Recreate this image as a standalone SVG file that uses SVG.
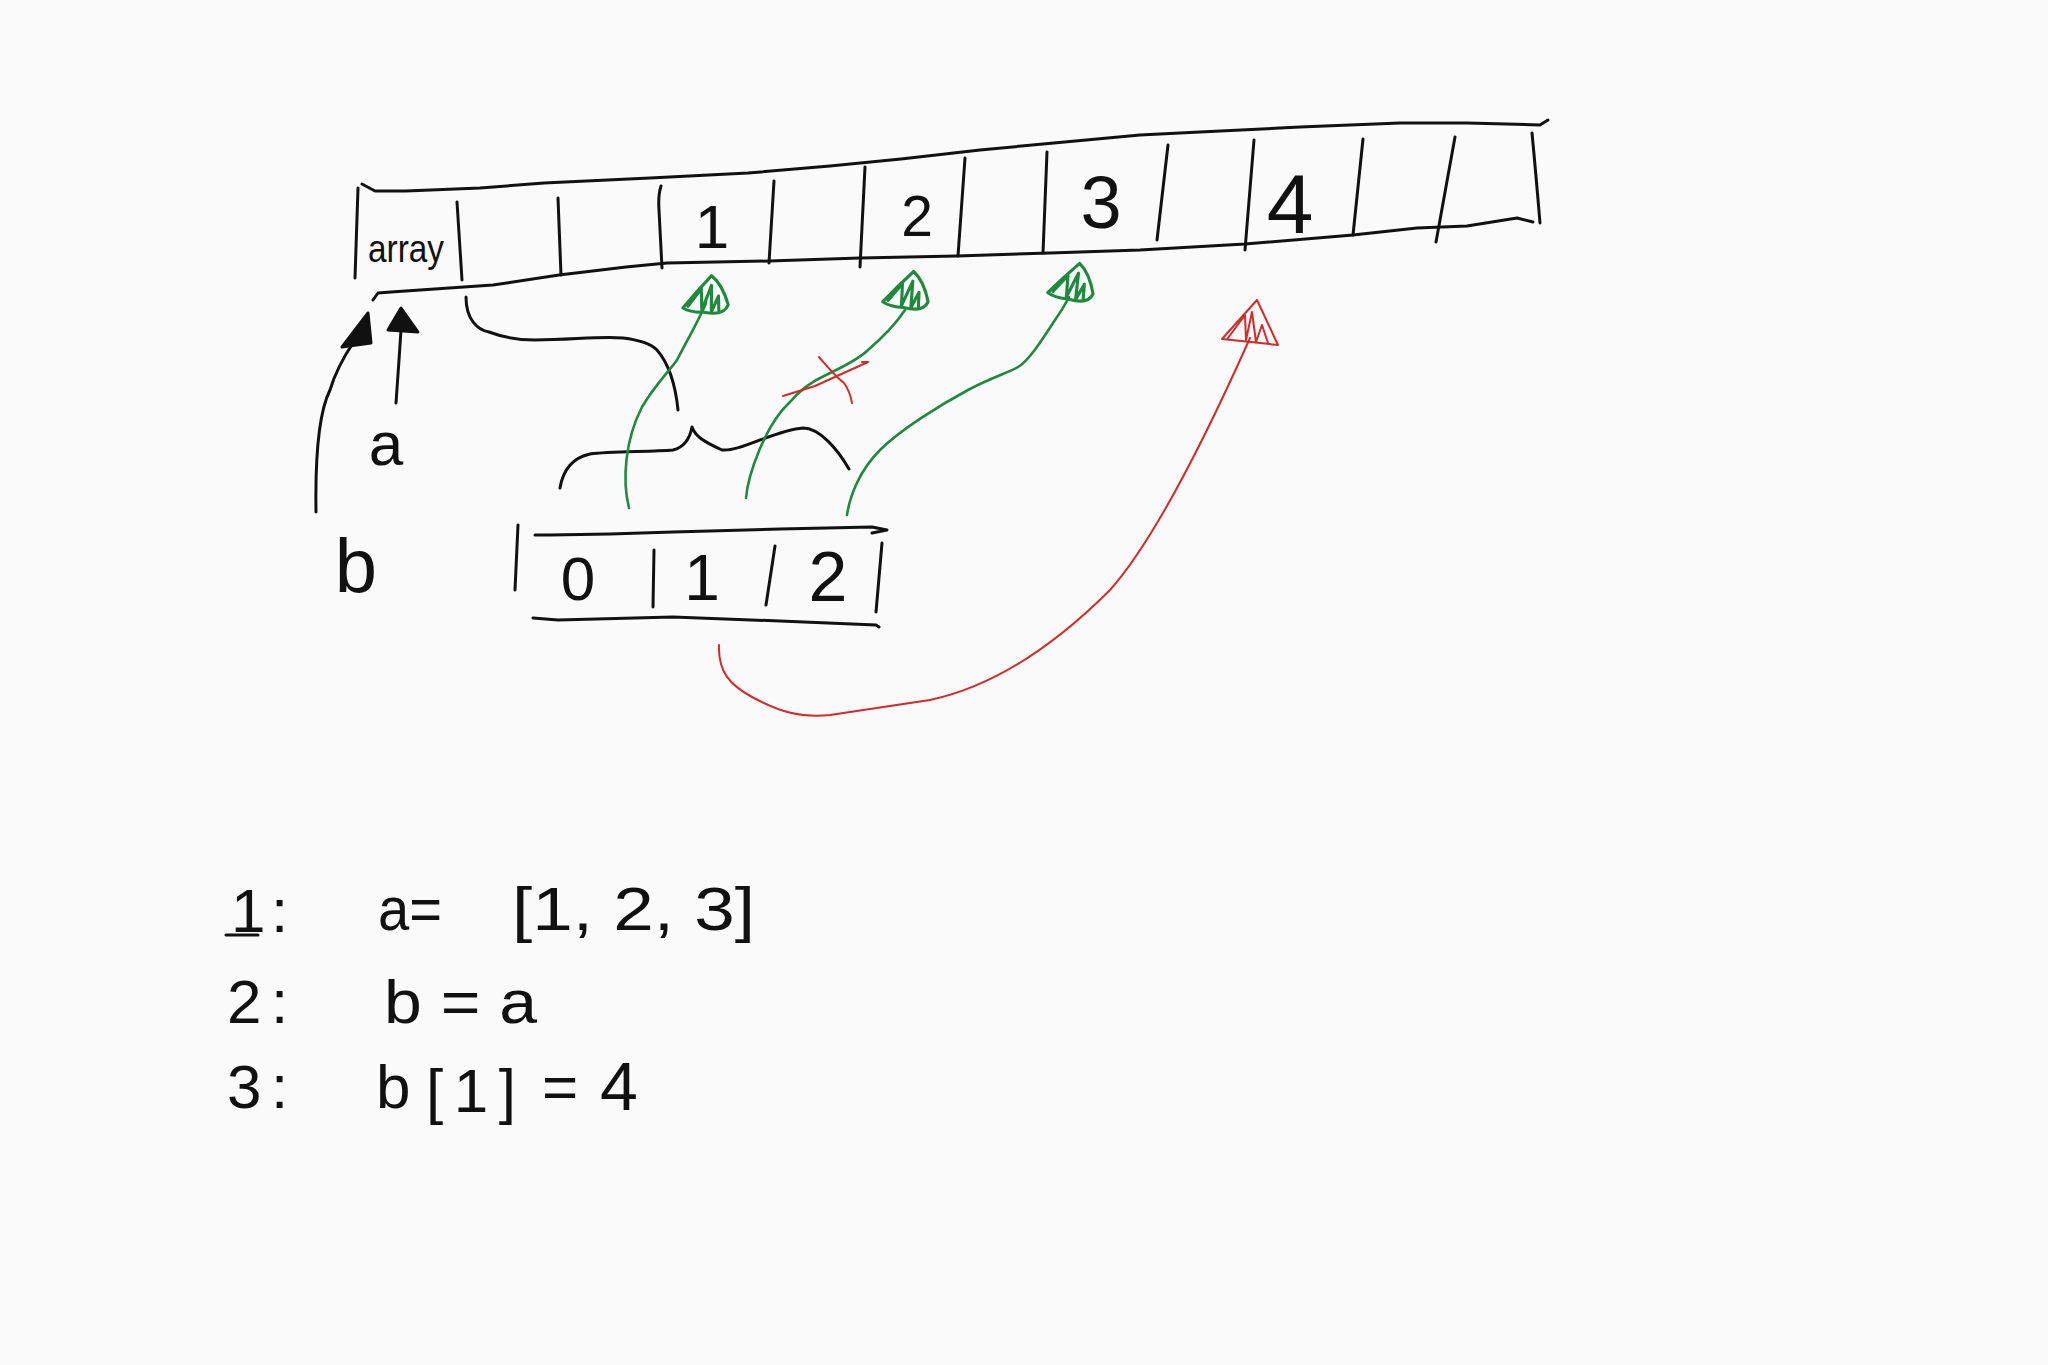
<svg xmlns="http://www.w3.org/2000/svg" xmlns:xlink="http://www.w3.org/1999/xlink" width="2048" height="1365" viewBox="0 0 2048 1365">
<style>
.k{fill:none;stroke:#111;stroke-width:3;stroke-linecap:round;stroke-linejoin:round}
.kf{fill:#111;stroke:#111;stroke-width:3;stroke-linecap:round;stroke-linejoin:round}
.g{fill:none;stroke:#1f8a3e;stroke-width:2.6;stroke-linecap:round;stroke-linejoin:round}
.r{fill:none;stroke:#d42a2a;stroke-width:2;stroke-linecap:round;stroke-linejoin:round}
.t{font-family:"Liberation Sans","DejaVu Sans",sans-serif;fill:#111}
</style>
<defs>
<g id="ah">
<path d="M-22,30 Q-12,14 -2,0 Q8,6 15,22 Q13,32 -4,31 Q-15,33 -22,30 Z"/>
<path d="M-18,28 L-9,12 L-6,30 L-1,8 L2,30 L6,16 L8,28"/>
</g>
</defs>
<rect width="2048" height="1365" fill="#fafafa"/>

<g id="array-main">
<polyline class="k" points="362,184 375,191 406,191 480,188 544,183 650,178 748,173 830,166 901,159 980,150 1054,143 1140,135 1200,132 1300,127 1400,123 1467,123 1540,125 1548,120"/>
<polyline class="k" points="373,300 378,293 391,292 493,285 559,275 626,267 667,263 769,261 860,258 957,256 1050,253 1140,250 1245,244 1353,235 1417,228 1467,226 1517,218 1533,222"/>
<path class="k" d="M358,188 L355,278 M457,202 L462,280 M558,198 L561,275 M661,186 Q658,195 659,210 L662,268 M774,181 L769,263 M865,167 L860,267 M965,158 L958,256 M1047,152 L1043,253 M1168,145 L1157,240 M1254,140 L1245,250 M1363,139 L1353,235 M1455,137 L1436,242 M1532,133 Q1536,175 1540,223"/>
<text class="t" x="368" y="262" font-size="38" textLength="76" lengthAdjust="spacingAndGlyphs">array</text>
<text class="t" x="712" y="248" font-size="62" text-anchor="middle">1</text>
<text class="t" x="917" y="236" font-size="57" text-anchor="middle">2</text>
<text class="t" x="1101" y="228" font-size="74" text-anchor="middle">3</text>
<text class="t" x="1290" y="233" font-size="84" text-anchor="middle">4</text>
</g>

<g id="array-b">
<path class="k" d="M518,525 L515,590"/>
<polyline class="k" points="535,535 550,535 610,534 673,532 780,529 872,527 887,530 872,533"/>
<polyline class="k" points="533,618 558,620 673,617 780,621 876,625 879,627"/>
<path class="k" d="M654,550 L653,607 M775,546 L766,605 M882,543 L876,612"/>
<text class="t" x="578" y="600" font-size="62" text-anchor="middle">0</text>
<text class="t" x="702" y="600" font-size="64" text-anchor="middle">1</text>
<text class="t" x="828" y="601" font-size="70" text-anchor="middle">2</text>
</g>

<g id="label-a"><text class="t" x="386" y="465" font-size="62" text-anchor="middle">a</text></g>
<g id="label-b"><text class="t" x="356" y="592" font-size="76" text-anchor="middle">b</text></g>

<g id="brace">
<path class="k" d="M560,488 C563,470 572,458 590,454 C610,451 650,452 673,450 C685,447 690,438 692,427 C695,435 700,440 722,450 C740,452 775,430 803,428 C820,428 838,450 849,469"/>
</g>

<g id="connectors">
<path class="k" d="M466,297 C466,320 478,330 489,332 C505,338 520,340 535,340 C570,340 600,336 623,338 C640,340 652,345 657,350 C670,365 676,390 678,410"/>
<path class="k" d="M316,512 C315,450 320,410 330,390 C336,370 345,355 353,343"/>
<path class="kf" d="M368,313 L342,347 L371,343 Z"/>
<path class="k" d="M396,403 L399,360 L401,330"/>
<path class="kf" d="M401,308 L388,330 L418,332 Z"/>

<path class="g" d="M629,508 C622,480 625,440 642,407 C655,385 670,370 677,360 C690,335 700,318 706,303"/>
<use href="#ah" class="g" transform="translate(714,276) rotate(8) scale(1.2)"/>
<path class="g" d="M746,498 C748,475 765,425 790,402 C800,390 815,380 826,375 C845,366 860,358 868,350 C882,338 895,325 905,310"/>
<use href="#ah" class="g" transform="translate(916,272) rotate(12) scale(1.2)"/>
<path class="g" d="M847,515 C850,495 860,470 880,450 C900,430 940,405 968,390 C990,378 1010,372 1018,367 C1030,360 1045,335 1055,320 C1062,310 1066,303 1069,297"/>
<use href="#ah" class="g" transform="translate(1082,264) rotate(14) scale(1.2)"/>

<path class="r" d="M783,396 L815,386 L868,362 L862,362" stroke-width="3"/>
<path class="r" d="M819,357 C826,365 834,375 844,383 C849,390 851,397 852,403" stroke-width="2.5"/>
<path class="r" d="M719,645 C718,672 730,685 752,697 C780,712 800,718 830,715 L930,700 C1000,685 1060,640 1110,590 C1150,545 1200,450 1250,338"/>
<path class="r" d="M1257,300 L1222,339 L1278,345 Z M1228,338 L1245,315 L1246,340 L1252,312 L1256,342 L1262,325 L1268,343" stroke-width="2.5"/>
</g>

<g id="code">
<path class="k" d="M226,935 L258,935"/>
<text class="t" font-size="62"><tspan x="231" y="932">1</tspan><tspan x="271" y="932">:</tspan></text>
<text class="t" font-size="62" y="930"><tspan x="378" y="930" textLength="64" lengthAdjust="spacingAndGlyphs">a=</tspan> <tspan x="512" y="930" textLength="243" lengthAdjust="spacingAndGlyphs">[1, 2, 3]</tspan></text>
<text class="t" font-size="62"><tspan x="227" y="1023">2</tspan><tspan x="271" y="1023">:</tspan></text>
<text class="t" font-size="62" x="384" y="1023" textLength="153" lengthAdjust="spacingAndGlyphs">b = a</text>
<text class="t" font-size="62"><tspan x="227" y="1108">3</tspan><tspan x="271" y="1108">:</tspan></text>
<text class="t" font-size="62"><tspan x="376" y="1108">b</tspan><tspan x="426" y="1112" textLength="90" lengthAdjust="spacing">[1]</tspan> <tspan x="542" y="1108">=</tspan> <tspan x="600" y="1110" font-size="68">4</tspan></text>
</g>
</svg>
